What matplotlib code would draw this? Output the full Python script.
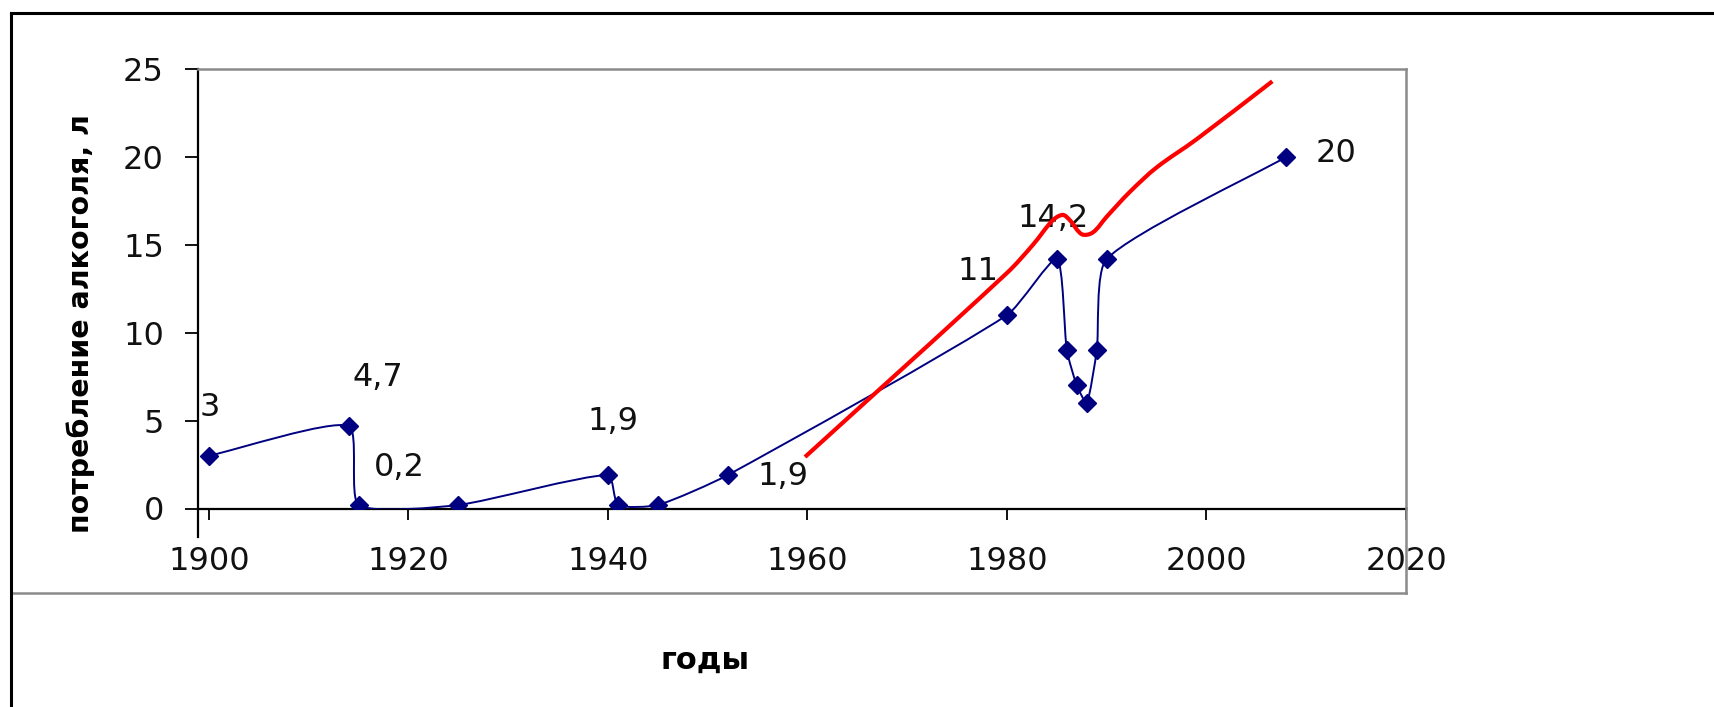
import numpy as np
import matplotlib
matplotlib.use("Agg")
import matplotlib.pyplot as plt
from matplotlib.path import Path
from matplotlib.patches import PathPatch
from matplotlib.lines import Line2D

# %% data
years = [1900, 1914, 1915, 1925, 1940, 1941, 1945, 1952,
         1980, 1985, 1986, 1987, 1988, 1989, 1990, 2008]
litres = [3, 4.7, 0.2, 0.2, 1.9, 0.2, 0.2, 1.9,
          11, 14.2, 9, 7, 6, 9, 14.2, 20]

label_years = [1900, 1914, 1915, 1940, 1952, 1980, 1985, 2008]
label_values = [3, 4.7, 0.2, 1.9, 1.9, 11, 14.2, 20]
label_texts = ["3", "4,7", "0,2", "1,9", "1,9", "11", "14,2", "20"]

# hand-drawn red trend line
trend_years = [1959.75, 1980.0, 1982.6, 1984.6, 1985.6, 1986.3, 1987.5,
               1988.6, 1990.0, 1992.3, 1995.0, 1999.0, 2006.6]
trend_values = [2.93, 13.4, 15.0, 16.4, 16.7, 16.4, 15.6,
                15.7, 16.6, 18.0, 19.4, 21.0, 24.3]

x_ticks = [1900, 1920, 1940, 1960, 1980, 2000, 2020]
y_ticks = [0, 5, 10, 15, 20, 25]

# label offsets in pixels (style, not data)
label_offsets = [(1, 48), (29, 48), (41, 37), (5, 54),
                 (55, -1), (-29, 44), (-4, 40), (50, 3)]


def smooth_path(ax, xs, ys, tension=1.0):
    """Excel-like smoothed line as cubic Bezier path (in data coords)."""
    pts = ax.transData.transform(np.column_stack([xs, ys]))
    n = len(pts)
    verts = [pts[0]]
    codes = [Path.MOVETO]
    for i in range(n - 1):
        p0 = pts[i - 1] if i > 0 else pts[i]
        p1, p2 = pts[i], pts[i + 1]
        p3 = pts[i + 2] if i + 2 < n else pts[i + 1]
        d01 = np.linalg.norm(p1 - p0)
        d12 = np.linalg.norm(p2 - p1)
        d23 = np.linalg.norm(p3 - p2)
        c1 = p1 + tension * (p2 - p0) / 3 * d12 / (d01 + d12)
        c2 = p2 - tension * (p3 - p1) / 3 * d12 / (d12 + d23)
        verts += [c1, c2, p2]
        codes += [Path.CURVE4] * 3
    verts = ax.transData.inverted().transform(np.array(verts))
    return Path(verts, codes)


W, H = 1715, 707
fig = plt.figure(figsize=(W / 100, H / 100), dpi=100)
fig.patch.set_facecolor("white")

ax = fig.add_axes([198 / W, 1 - 508.5 / H, (1406 - 198) / W, (508.5 - 69) / H])
ax.set_xlim(1898.9, 2020)
ax.set_ylim(0, 25)
ax.set_facecolor("white")

navy = "#000080"
ax.add_patch(PathPatch(smooth_path(ax, years, litres, tension=0.6), fill=False,
                       edgecolor=navy, lw=1.4, zorder=3))
ax.plot(years, litres, ls="none", marker="D", ms=9.5, color=navy, zorder=4)

for yr, val, txt, off in zip(label_years, label_values, label_texts, label_offsets):
    ax.annotate(txt, (yr, val), xytext=off, textcoords="offset pixels",
                ha="center", va="center", fontsize=23, family="DejaVu Sans",
                color="#111111", zorder=5)

ax.add_patch(PathPatch(smooth_path(ax, trend_years, trend_values), fill=False,
                       edgecolor="#ff0000", lw=3.0, zorder=6, clip_on=False))

ax.set_xticks(x_ticks)
ax.set_yticks(y_ticks)
ax.tick_params(axis="x", direction="out", length=8, width=1.4, pad=19,
               labelsize=23, colors="#111111")
ax.tick_params(axis="y", direction="out", length=9.5, width=1.4, pad=15,
               labelsize=23, colors="#111111")
for lab in ax.get_xticklabels() + ax.get_yticklabels():
    lab.set_family("DejaVu Sans")

ax.spines["left"].set_linewidth(1.6)
ax.spines["bottom"].set_linewidth(1.6)
ax.spines["left"].set_bounds(-1.6, 25)
ax.spines["top"].set_color("#8a8a8a")
ax.spines["right"].set_color("#8a8a8a")
ax.spines["top"].set_linewidth(1.8)
ax.spines["right"].set_linewidth(1.8)

ax.set_ylabel("потребление алкоголя, л", fontsize=20.5, fontweight="bold",
              family="DejaVu Sans")
ax.yaxis.set_label_coords((95 - 198) / (1406 - 198), 0.42)
fig.text(705 / W, 1 - 660 / H, "годы", ha="center", va="center",
         fontsize=22, fontweight="bold", family="DejaVu Sans")

# chart area borders
gray = "#8a8a8a"
fig.add_artist(Line2D([1406 / W, 1406 / W], [1 - 508 / H, 1 - 593 / H],
                      color=gray, lw=1.8, transform=fig.transFigure))
fig.add_artist(Line2D([11 / W, 1406 / W], [1 - 593 / H, 1 - 593 / H],
                      color=gray, lw=1.8, transform=fig.transFigure))
fig.add_artist(Line2D([11 / W, 1.0], [1 - 13 / H, 1 - 13 / H],
                      color="black", lw=2.2, transform=fig.transFigure))
fig.add_artist(Line2D([11 / W, 11 / W], [1 - 13 / H, 0.0],
                      color="black", lw=2.2, transform=fig.transFigure))

fig.savefig("out.png", dpi=100, facecolor=fig.get_facecolor())
